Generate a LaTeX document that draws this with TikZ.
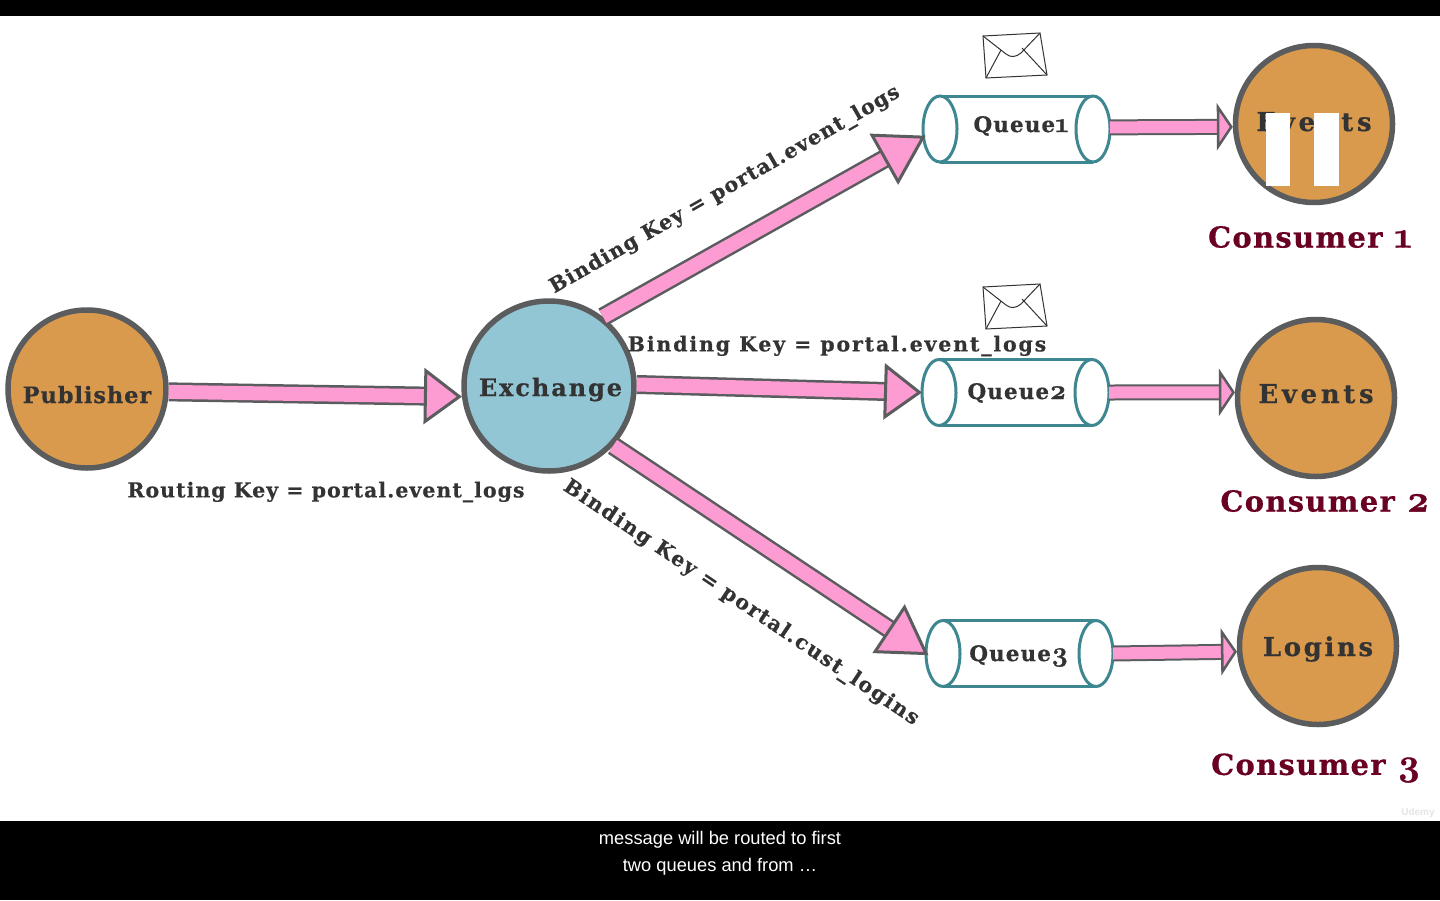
\documentclass[tikz,border=0pt]{standalone}
\usepackage{fontspec}
\setmainfont[BoldFeatures={FakeBold=0.5}]{DejaVu Serif}
\setsansfont{Liberation Sans}
\newfontfamily\oldnum[Numbers=OldStyle,Scale=1.3,BoldFeatures={FakeBold=1}]{Latin Modern Roman}
\usetikzlibrary{arrows.meta}
\definecolor{rimgray}{HTML}{5A5C5E}
\definecolor{orangefill}{HTML}{D99A4E}
\definecolor{bluefill}{HTML}{93C6D4}
\definecolor{arrowpink}{HTML}{FD9BD3}
\definecolor{tubeteal}{HTML}{3E8791}
\definecolor{inkdark}{HTML}{333333}
\definecolor{winered}{HTML}{6A0022}
\newcommand{\spaced}[1]{\addfontfeature{LetterSpace=#1}}
\newcommand{\lowered}[2]{\raisebox{#1}[0pt][0pt]{#2}}
\tikzset{
  roundnode/.style={circle,draw=rimgray,line width=5.5pt,minimum size=157pt,inner sep=0pt,text=inkdark,font=\bfseries\fontsize{24}{28}\selectfont},
  consumernode/.style={roundnode,fill=orangefill},
  queuenode/.style={minimum width=187pt,minimum height=66pt,inner sep=0pt,outer sep=0pt,text=inkdark,font=\bfseries\fontsize{21.5}{25}\selectfont\spaced{5}},
  keylabel/.style={text=inkdark,inner sep=0pt,font=\bfseries\fontsize{20.5}{24}\selectfont\spaced{#1}},
  ownerlabel/.style={text=winered,inner sep=0pt,font=\bfseries\fontsize{29}{32}\selectfont\spaced{4.5}},
  bigarrow/.style={draw=rimgray,line width=2.5pt,double=arrowpink,double distance=14pt,-{Triangle[length=38pt,width=56pt,fill=arrowpink,line width=3pt]}},
  slantarrow/.style={bigarrow,-{Triangle[length=48pt,width=58pt,fill=arrowpink,line width=3pt]},shorten >=-3pt},
  smallarrow/.style={draw=rimgray,line width=2pt,double=arrowpink,double distance=12pt,-{Triangle[length=16pt,width=47pt,fill=arrowpink,line width=2.5pt]}},
  captiontext/.style={text=white,inner sep=0pt,font=\sffamily\fontsize{18.3}{22}\selectfont},
  envelope/.pic={
    \draw[draw=inkdark,fill=white,line width=1pt] (-32,-20) -- (25,-23) -- (32,19) -- (-29,22) -- cycle;
    \draw[draw=inkdark,line width=1pt] (-32,-20) -- (-9,-2) .. controls (-4,2) and (1,1) .. (6,-3) -- (25,-23);
    \draw[draw=inkdark,line width=1pt] (-14,-6) -- (-29,22);
    \draw[draw=inkdark,line width=1pt] (7,-8) -- (32,19);
  }
}
% tube body and both end ellipses round a queue node
\newcommand{\queuetube}[1]{
  \draw[tubeteal,line width=3pt] ([xshift=17pt]#1.north west) -- ([xshift=-17pt]#1.north east);
  \draw[tubeteal,line width=3pt] ([xshift=17pt]#1.south west) -- ([xshift=-17pt]#1.south east);
  \draw[tubeteal,line width=3pt,fill=white] ([xshift=17pt]#1.west) ellipse (17pt and 33pt);
  \draw[tubeteal,line width=3pt,fill=white] ([xshift=-17pt]#1.east) ellipse (17pt and 33pt);
}
\begin{document}
\begin{tikzpicture}[x=1pt,y=-1pt]
\useasboundingbox (0,0) rectangle (1440,900);
\fill[white] (0,0) rectangle (1440,900);
\fill[black] (0,0) rectangle (1440,16);
\fill[black] (0,821) rectangle (1440,900);

\node[consumernode,minimum size=158pt] (publisher) at (87,389) {\lowered{-14pt}{\fontsize{22.5}{26}\selectfont\spaced{4}Publisher}};
\node[roundnode,fill=bluefill,minimum size=170pt] (exchange) at (549,386) {\hspace*{3pt}\lowered{-10pt}{\spaced{8}Exchange}};
\node[consumernode] (consumer1) at (1314,124) {\lowered{-7pt}{\fontsize{26}{30}\selectfont\spaced{14}Events}};
\node[consumernode] (consumer2) at (1316,398) {\lowered{-5pt}{\fontsize{26}{30}\selectfont\spaced{14}Events}};
\node[consumernode] (consumer3) at (1318,646) {\lowered{-10pt}{\fontsize{26}{30}\selectfont\spaced{10}Logins}};

\fill[white] (1266,113) rectangle (1290,186);
\fill[white] (1314,113) rectangle (1339,186);

\node[queuenode] (queue1) at (1016.5,129) {};
\node[queuenode] (queue2) at (1015.5,392.5) {};
\node[queuenode] (queue3) at (1019.5,653.5) {};
\queuetube{queue1}
\queuetube{queue2}
\queuetube{queue3}
\node[queuenode,minimum width=0pt,minimum height=0pt] (queuetext1) at (1021,126) {Queue{\oldnum 1}};
\node[queuenode,minimum width=0pt,minimum height=0pt] (queuetext2) at (1017,393) {Queue{\oldnum 2}};
\node[queuenode,minimum width=0pt,minimum height=0pt] (queuetext3) at (1019,656) {Queue{\oldnum 3}};

\draw[bigarrow] (publisher.-2) -- (exchange.187);
\draw[slantarrow] (exchange.52) -- (queue1.185);
\draw[bigarrow] (exchange.1) -- (queue2.west);
\draw[slantarrow] (exchange.-43) -- (queue3.west);
\draw[smallarrow] (queue1.1) -- (consumer1.182);
\draw[smallarrow] (queue2.east) -- (consumer2.176);
\draw[smallarrow] (queue3.east) -- (consumer3.184);

\node[keylabel=5] (routingkey) at (326,492) {Routing Key = portal.event\_logs};
\node[keylabel=5.5,rotate=29.7] (bindingkey1) at (725,190) {Binding Key = portal.event\_logs};
\node[keylabel=9] (bindingkey2) at (837,346) {Binding Key = portal.event\_logs};
\node[keylabel=8,rotate=-33.9] (bindingkey3) at (741,603) {Binding Key = portal.cust\_logins};

\node[ownerlabel] (owner1) at (1310,237) {Consumer {\oldnum 1}};
\node[ownerlabel] (owner2) at (1325,501) {Consumer {\oldnum 2}};
\node[ownerlabel] (owner3) at (1316,768) {Consumer {\oldnum 3}};

\pic at (1015,56) {envelope};
\pic at (1015,307) {envelope};

\node[captiontext] (caption1) at (720,840) {message will be routed to first};
\node[captiontext] (caption2) at (720,867) {two queues and from \dots};
\node[text=black!10,inner sep=0pt,font=\sffamily\bfseries\fontsize{10}{12}\selectfont] (watermark) at (1418,813) {Udemy};
\end{tikzpicture}
\end{document}
